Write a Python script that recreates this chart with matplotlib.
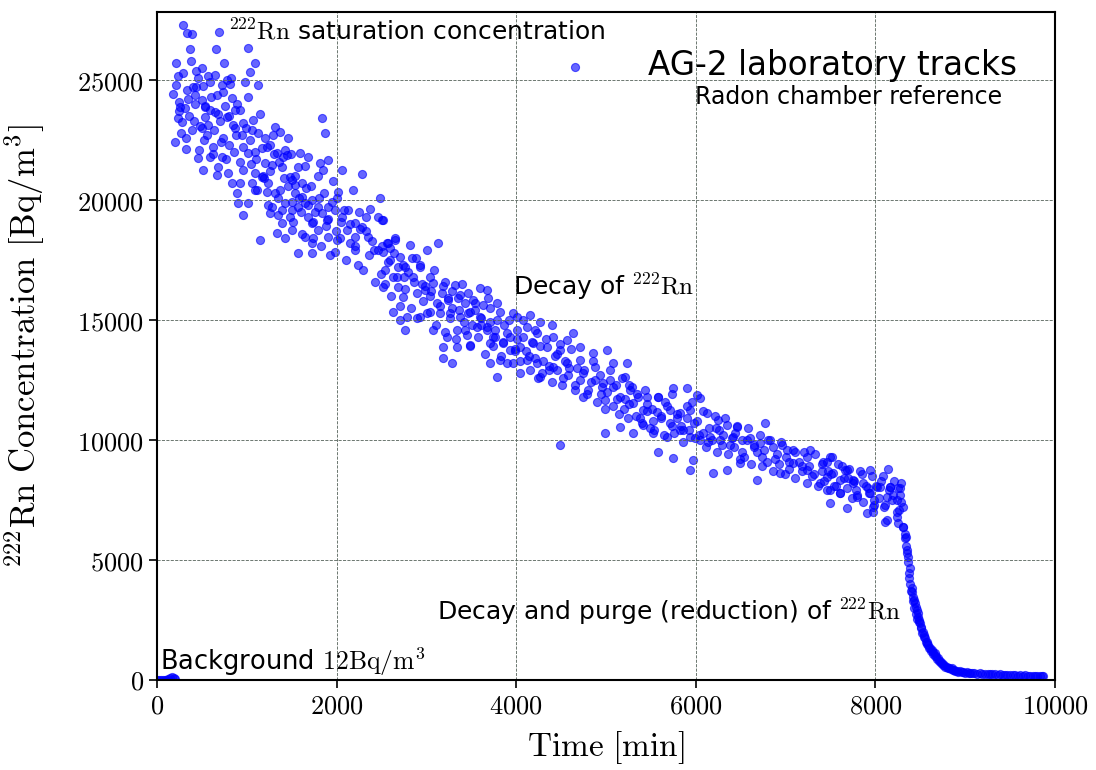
import matplotlib
matplotlib.use('Agg')
import matplotlib.pyplot as plt
from matplotlib import ticker

plt.rcParams['mathtext.fontset'] = 'cm'
plt.rcParams['font.family'] = ['DejaVu Sans']

# background before the chamber is filled
bg_time = [5, 25, 45, 65, 85, 105, 125, 145, 165, 185, 200]
bg_conc = [12, 15, 10, 14, 11, 13, 40, 90, 120, 70, 30]

# saturation and slow decay of 222Rn
sat_time = [286, 338, 393, 690, 367, 653, 1010, 208, 750, 1091, 1039, 230, 431, 453, 564, 776,
            813, 405, 516, 720, 423, 664, 839, 497, 256, 312, 535, 590, 646, 868, 924, 238,
            275, 535, 776, 850, 961, 1073, 1834, 1871, 386, 497, 572, 739, 869, 1036, 1128, 1203,
            1314, 1370, 1463, 200, 319, 627, 460, 590, 720, 961, 1017, 1091, 1165, 1258, 1332, 1407,
            1444, 1592, 1685, 516, 683, 794, 664, 961, 1091, 1203, 1277, 1388, 1481, 1574, 1815, 1908,
            1852, 2056, 2279, 831, 1054, 1165, 1221, 1370, 1500, 1537, 1611, 887, 906, 1017, 1091, 1277,
            1425, 1500, 1611, 1648, 1722, 1797, 1908, 2019, 1982, 2131, 2483, 2372, 961, 1258, 1351, 1388,
            1500, 1574, 1685, 1722, 1834, 1889, 2056, 2205, 2279, 2502, 1147, 1333, 1425, 1500, 1648, 1722,
            1797, 1908, 2001, 2112, 2205, 2354, 2576, 2650, 1574, 1722, 1982, 2205,
            180, 240, 270, 330, 360, 420, 480, 520, 600, 640, 700, 760, 800, 880, 930, 990,
            1050, 1110, 1180, 1240, 1300, 1350, 1420, 1480, 1540, 1600, 1660, 1740, 1800, 1880, 1950,
            210, 250, 290, 320, 350, 380, 410, 440, 470, 500, 530, 560, 590, 620, 650, 680,
            710, 740, 770, 800, 830, 860, 890, 920, 950, 980]
sat_conc = [27292, 26972, 26917, 27014, 26278, 26278, 26347, 25694, 25694, 25694, 25319, 25167, 25389, 25070, 25167, 25000,
            24833, 24722, 24750, 24792, 24375, 24375, 24236, 24167, 23889, 23820, 23889, 23750, 23681, 23750, 23750, 23403,
            23264, 23472, 23472, 23125, 23194, 23333, 23403, 22806, 22917, 22986, 23125, 22569, 22986, 22500, 22778, 22569,
            23056, 22847, 22569, 22430, 22111, 22222, 21736, 21778, 21806, 22222, 21944, 22014, 22153, 22292, 21944, 21806,
            21875, 21944, 21806, 21250, 21389, 21139, 21042, 21250, 21111, 21528, 21458, 21389, 20972, 21389, 21528, 21667,
            21250, 21250, 21083, 20722, 20694, 20972, 20347, 20417, 20833, 20625, 20694, 20278, 19861, 19861, 20417, 19722,
            19861, 19931, 20139, 19861, 20000, 19722, 19722, 20347, 19583, 19583, 20069, 19611, 19375, 19444, 19375, 19028,
            19583, 19722, 19306, 19028, 19444, 19167, 19306, 19028, 18889, 19167, 18333, 18611, 18403, 18750, 18472, 18194,
            18750, 18472, 18333, 18750, 18472, 18472, 18194, 18333, 17778, 17778, 17847, 17917,
            24400, 24100, 22800, 24600, 23500, 24000, 23100, 22500, 24300, 22900, 23300, 23900, 22300, 22700, 21600, 23000,
            21500, 20400, 21000, 20700, 21900, 20100, 20900, 19300, 20300, 19500, 20500, 19100, 20100, 18900, 19900,
            24800, 23700, 25300, 22600, 24200, 25800, 23300, 24700, 22100, 25500, 23900, 22700, 24900, 21900, 25200, 23600,
            22400, 24500, 21700, 23500, 25100, 22000, 24000, 20700, 22700, 24900]

decay_time = [2513, 3133, 3003, 2817, 2650, 2557, 2520, 2594, 2706, 2836, 2928, 2761, 2539, 2631, 2854, 3040,
              3077, 2520, 2687, 2743, 2891, 2984, 3170, 3318, 3374, 3466, 3596, 3671, 3244, 3430, 3522, 3633,
              3782, 3819, 2631, 2780, 2706, 2928, 3040, 3151, 3263, 3374, 3485, 3596, 3708, 4005, 4153, 4265,
              4395, 2761, 3077, 3226, 3337, 3448, 3560, 3671, 3745, 3893, 4005, 4116, 4228, 4413, 4562, 4636,
              3188, 3337, 3485, 3708, 3856, 3931, 4042, 4191, 4339, 4487, 4710, 4859, 5007, 5081, 5230, 3188,
              3281, 3708, 3819, 3968, 4116, 4228, 4413, 4562, 4710, 4877, 3782, 4042, 4265, 4488,
              5211, 4970, 5081, 5267, 5453, 5582, 5750, 5906, 6009, 6047, 4989, 5156, 5304, 5415, 5564, 5713,
              5824, 5935, 6121, 6251, 6344, 6455, 6770, 4989, 5156, 5304, 5415, 5527, 5675, 5824, 5935, 6047,
              6158, 6269, 6418, 6566, 6715, 6863, 7012, 7272, 7494, 5582, 5750, 5972, 5935, 6195, 6344, 6492,
              6678, 6938, 7086, 7235, 7383, 7531, 7680, 7754,
              7513, 7420, 7661, 7940, 8144, 7457, 7606, 7754, 7865, 8051, 8162, 8274, 7457, 7606, 7791, 7940,
              8125, 8237, 8311, 7494, 7680, 7903, 7977, 8125, 8255, 8304,
              2050, 2150, 2250, 2330, 2420, 2460, 2600, 2680, 2750, 2880, 2950, 3050, 3120, 3210, 3290, 3350,
              3420, 3540, 3610, 3690, 3760, 3850, 3920, 3990, 4080, 4140, 4210, 4300, 4360, 4450, 4520, 4590,
              4650, 4740, 4800, 4880, 4950, 5040, 5120, 5200, 5260, 5340, 5380, 5460, 5520, 5610, 5660, 5730,
              5790, 5860, 5900, 5980, 6080, 6140, 6220, 6300, 6380, 6440, 6520, 6600, 6650, 6740, 6800, 6880,
              6950, 7040, 7100, 7180, 7240, 7320, 7400, 7470, 7560, 7630, 7700, 7780, 7850, 7920, 7990, 8060,
              8100, 8200, 8260, 8280]
decay_conc = [19167, 18194, 17917, 18125, 18403, 18194, 17847, 17500, 17639, 17569, 17222, 17222, 17083, 16806, 16806, 16806,
              16528, 16389, 16389, 15972, 16111, 16250, 16111, 16458, 16042, 16111, 16319, 16250, 15833, 15694, 15833, 15625,
              15694, 15347, 15347, 15139, 15000, 15139, 15347, 15278, 15278, 15139, 15347, 15139, 14931, 15139, 15208, 14931,
              14792, 14583, 14583, 14306, 14583, 14375, 14722, 14583, 14306, 14444, 14583, 14722, 14444, 14306, 14167, 14444,
              13889, 13889, 13958, 14028, 14028, 13750, 13889, 14028, 13889, 13750, 13889, 13611, 13750, 13194, 13194, 13403,
              13194, 13194, 13333, 13194, 13333, 13194, 13056, 13194, 13333, 13056, 12639, 12778, 12639, 9790,
              12639, 12361, 12222, 12083, 11805, 11805, 12152, 12152, 11875, 11736, 11666, 11805, 11527, 11250, 11180, 11250,
              11111, 11250, 11111, 10833, 10625, 10555, 10722, 10277, 10555, 10277, 10625, 10277, 10138, 10416, 10138, 10000,
              10138, 10000, 10138, 10000, 9861, 9722, 9583, 9583, 9305, 9513, 9236, 9166, 8750, 8611, 8750, 9027,
              8333, 8611, 9027, 8750, 8194, 8611, 8750, 8194,
              9305, 9097, 8750, 8750, 8777, 8472, 8333, 8333, 8194, 8055, 8055, 7986, 7916, 7777, 7638, 7777,
              7638, 7500, 7222, 7361, 7152, 6944, 7013, 6666, 6527, 6388,
              19100, 18200, 19500, 18700, 17900, 19300, 18000, 17200, 16800, 17600, 16500, 16200, 15700, 16600, 15500, 15900,
              14900, 15400, 14800, 15900, 14600, 14100, 15000, 13700, 14300, 13500, 14600, 13300, 12900, 13600, 12600, 13000,
              12300, 12800, 12100, 12500, 11900, 12500, 11700, 11300, 12300, 11900, 10900, 11500, 10800, 11000, 11600, 10600,
              10900, 10400, 11400, 10700, 10300, 9900, 10500, 10200, 9800, 10300, 9500, 10100, 9700, 9300, 10000, 9200,
              9900, 9100, 9500, 8900, 9300, 8600, 9000, 8700, 8100, 8900, 8400, 7900, 8600, 8000, 7500, 8300,
              7200, 7700, 7100, 8200]

# second pass over the band, 250 min at a time
band_time = [1010, 1060, 1100, 1150, 1190, 1220, 1240, 1130, 1260, 1290, 1320, 1360, 1390, 1430, 1460, 1490,
             1510, 1540, 1580, 1610, 1650, 1680, 1710, 1740, 1760, 1790, 1830, 1860, 1900, 1930, 1960, 1990,
             2010, 2040, 2080, 2110, 2150, 2180, 2210, 2240, 2260, 2290, 2330, 2360, 2400, 2430, 2460, 2490,
             2510, 2540, 2570, 2610, 2640, 2670, 2710, 2740, 2760, 2800, 2830, 2860, 2900, 2930, 2960, 2990,
             3010, 3040, 3080, 3110, 3150, 3180, 3210, 3240, 3260, 3290, 3330, 3360, 3400, 3430, 3460, 3490,
             3510, 3540, 3580, 3610, 3650, 3680, 3710, 3740, 3760, 3790, 3830, 3860, 3900, 3930, 3960, 3990,
             4010, 4040, 4080, 4110, 4150, 4180, 4210, 4240, 4260, 4290, 4330, 4360, 4400, 4430, 4460, 4490,
             4510, 4540, 4580, 4610, 4650, 4680, 4710, 4740, 4760, 4790, 4830, 4860, 4900, 4930, 4960, 4990,
             5010, 5040, 5080, 5110, 5150, 5180, 5210, 5240, 5260, 5290, 5330, 5360, 5400, 5430, 5460, 5490,
             5510, 5540, 5580, 5610, 5650, 5680, 5710, 5740, 5760, 5790, 5830, 5860, 5900, 5930, 5960, 5990,
             6010, 6040, 6080, 6110, 6150, 6180, 6210, 6240, 6260, 6290, 6330, 6360, 6400, 6430, 6460, 6490,
             6510, 6540, 6580, 6610, 6650, 6680, 6710, 6740, 6760, 6790, 6830, 6860, 6900, 6930, 6960, 6990,
             7010, 7040, 7080, 7110, 7150, 7180, 7210, 7240, 7260, 7290, 7330, 7360, 7400, 7430, 7460, 7490,
             7510, 7540, 7580, 7610, 7650, 7680, 7710, 7740, 7760, 7790, 7830, 7860, 7900, 7930, 7960, 7990,
             8010, 8040, 8080, 8110, 8150, 8180, 8210, 8240, 8270, 8290]
band_conc = [24300, 22900, 21700, 23600, 20900, 22200, 19800, 24800, 21200, 22700, 20300, 21600, 19600, 22100, 20600, 21900,
             19100, 21000, 20100, 18600, 21400, 19800, 20600, 18400, 19500, 21000, 18100, 20300, 19200, 17700, 20800, 18700,
             20100, 18400, 19600, 17500, 19000, 20400, 18100, 17300, 18800, 17100, 19300, 17700, 18300, 16600, 17900, 16900,
             18100, 16500, 17400, 16000, 17800, 16800, 15600, 17300, 16300, 17000, 15500, 16600, 15100, 17300, 15800, 16400,
             15300, 16000, 17100, 14800, 15600, 16400, 14500, 15900, 15100, 16200, 14200, 15400, 16500, 14600, 15300, 13900,
             14800, 15700, 14300, 15100, 13600, 14700, 15500, 13900, 14300, 15000, 13500, 14800, 13200, 14300, 15300, 13800,
             14200, 13300, 15000, 13700, 12900, 14100, 13400, 12600, 13900, 12800, 14200, 13100, 12400, 13500, 12900, 14000,
             12300, 13300, 12700, 13800, 12100, 13000, 12500, 11800, 12900, 11900, 12400, 13300, 11600, 12700, 12200, 11300,
             12000, 12900, 11400, 12300, 11100, 12600, 11700, 10900, 11500, 12200, 11000, 11800, 10700, 12100, 11200, 10500,
             11300, 10400, 11800, 10900, 10200, 11400, 10700, 11900, 10300, 11100, 10600, 9900, 10900, 10400, 11600, 10100,
             10800, 10200, 11200, 9700, 10500, 10000, 11000, 9500, 10400, 9800, 10900, 9400, 10100, 9700, 10600, 9200,
             10000, 9300, 10500, 9000, 9800, 9500, 10200, 8900, 9600, 9100, 10000, 8700, 9400, 9000, 9800, 8600,
             9300, 8800, 9600, 8400, 9100, 8700, 9500, 8200, 8900, 8500, 9400, 8100, 8700, 8300, 9100, 7900,
             8600, 8100, 9000, 7800, 8400, 8000, 8800, 7600, 8300, 7700, 8700, 7400, 8100, 7800, 8500, 7300,
             8100, 7600, 8500, 7300, 7900, 7500, 8300, 7000, 7700, 7400]

# decay and purge of the chamber
purge_time = [8014, 8163, 8256, 7977, 8107, 8237, 8311, 8330, 8340, 8348, 8367, 8385, 8378, 8404, 8410, 8422,
              8430, 8441, 8450, 8460, 8470, 8478, 8490, 8497, 8510, 8526, 8540, 8553, 8570, 8590, 8605, 8627,
              8645, 8664, 8680, 8701, 8720, 8738, 8765, 8794, 8820, 8849, 8875, 8905, 8940, 8979, 9015, 9054,
              9100, 9165, 9220, 9276, 9330, 9387, 9440, 9499, 9550, 9610, 9665, 9722, 9780, 9833,
              8335, 8345, 8355, 8362, 8372, 8390, 8395, 8415, 8435, 8455, 8465, 8485, 8505, 8520, 8545, 8560,
              8580, 8600, 8615, 8640, 8660, 8690, 8710, 8730, 8750, 8780, 8810, 8840, 8860, 8890, 8920, 8960,
              9000, 9040, 9080, 9130, 9190, 9250, 9300, 9360, 9420, 9470, 9530, 9590, 9640, 9700, 9750, 9800,
              9850, 9870]
purge_conc = [8055, 8055, 7986, 7222, 6597, 6805, 6388, 5902, 5972, 5416, 5138, 4652, 4236, 3819, 3650, 3472,
              3330, 3194, 3050, 2916, 2780, 2638, 2500, 2361, 2180, 2013, 1880, 1736, 1600, 1458, 1350, 1250,
              1180, 1111, 1000, 902, 810, 722, 640, 555, 520, 486, 430, 388, 370, 347, 325, 305,
              290, 277, 262, 250, 243, 236, 222, 208, 200, 194, 187, 180, 172, 166,
              6100, 5600, 5300, 4900, 4450, 4000, 3700, 3300, 3000, 2750, 2550, 2400, 2200, 1950, 1800, 1600,
              1500, 1350, 1200, 1100, 1000, 880, 780, 700, 620, 540, 480, 440, 400, 370, 340, 320,
              300, 290, 280, 260, 250, 240, 230, 220, 210, 200, 195, 185, 180, 170, 165, 160,
              155, 150]

fig = plt.figure(figsize=(10.96, 7.70), dpi=100)
ax = fig.add_axes([0.1432, 0.1169, 0.8194, 0.8679])

dot = dict(c='blue', s=34, alpha=0.6, linewidths=0.8)
ax.scatter(bg_time, bg_conc, **dot)
ax.scatter(sat_time, sat_conc, label='AG-2 laboratory tracks', **dot)
ax.scatter(decay_time, decay_conc, **dot)
ax.scatter(band_time, band_conc, **dot)
ax.scatter(purge_time, purge_conc, **dot)

ax.set_xlim(0, 10000)
ax.set_ylim(0, 27850)
ax.set_xticks([0, 2000, 4000, 6000, 8000, 10000])
ax.set_yticks([0, 5000, 10000, 15000, 20000, 25000])
ax.xaxis.set_major_formatter(ticker.FuncFormatter(lambda v, p: r'$%d$' % v))
ax.yaxis.set_major_formatter(ticker.FuncFormatter(lambda v, p: r'$%d$' % v))
ax.tick_params(labelsize=19, direction='out', length=6, width=1.2)
ax.grid(True, linestyle='--', linewidth=0.6, color='#55625a')
for sp in ax.spines.values():
    sp.set_linewidth(1.5)

ax.set_xlabel(r'$\mathrm{Time\ [min]}$', fontsize=24)
ax.set_ylabel(r'$^{222}\mathrm{Rn\ Concentration\ [Bq/m^3]}$', fontsize=25)
ax.yaxis.set_label_coords(-0.122, 0.5)
ax.xaxis.set_label_coords(0.5, -0.074)

ax.text(790, 26700, r'$^{222}\mathrm{Rn}$ saturation concentration', fontsize=18, va='baseline')
ax.text(3964, 16050, r'Decay of $^{222}\mathrm{Rn}$', fontsize=18, va='baseline')
ax.text(3118, 2500, r'Decay and purge (reduction) of $^{222}\mathrm{Rn}$', fontsize=18, va='baseline')
ax.text(33, 420, r'Background $12\mathrm{Bq/m}^3$', fontsize=18.5, va='baseline')
ax.text(5990, 24300, 'Radon chamber reference', fontsize=17, va='center')

ax.legend(loc='upper right', fontsize=23.5, frameon=False, handlelength=2.0,
          handletextpad=1.24, borderaxespad=0.75, scatterpoints=1)

fig.savefig('out.png', dpi=100)
